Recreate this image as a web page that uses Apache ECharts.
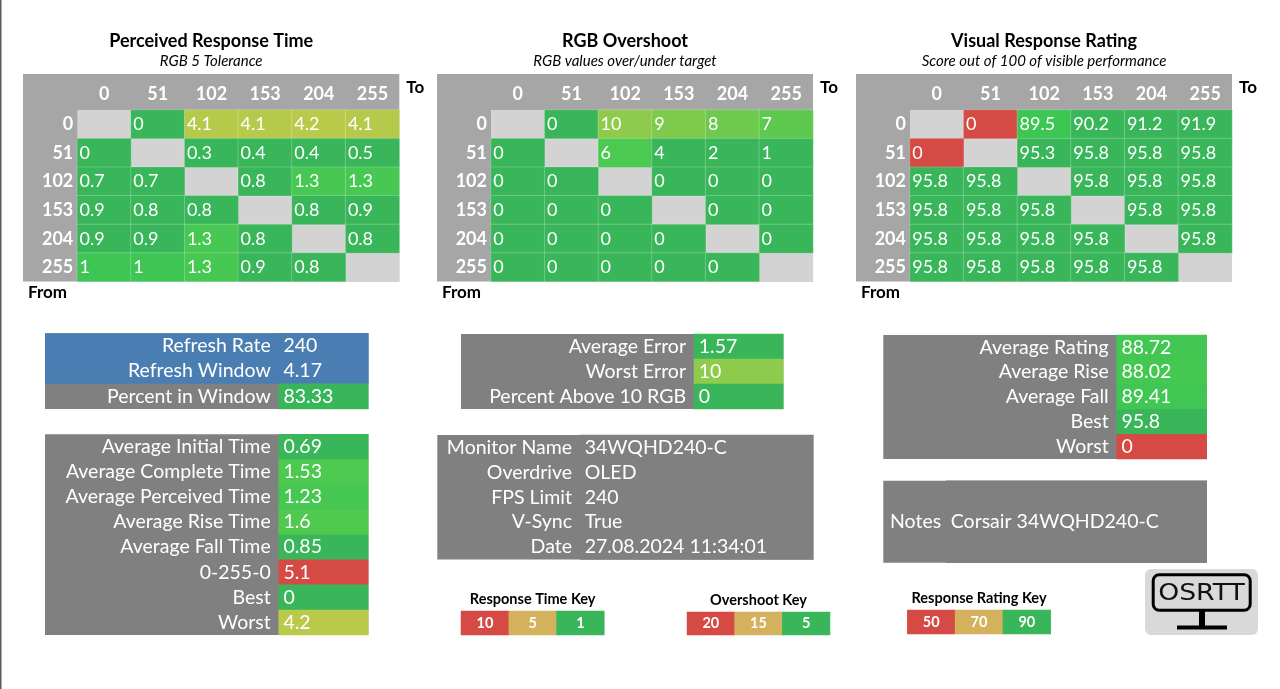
<!DOCTYPE html>
<html>
<head>
<meta charset="utf-8">
<title>OSRTT results</title>
<script src="https://cdn.jsdelivr.net/npm/echarts@6/dist/echarts.min.js"></script>
<style>
  html, body { margin: 0; padding: 0; background: #fff; }
  #main { width: 1280px; height: 689px; }
</style>
</head>
<body>
<div id="main"></div>
<script>
// transition levels (from / to)
const levels = ['0', '51', '102', '153', '204', '255'];

// heatmaps, row = from, col = to, null = same level
const perceivedTime = [
  [null, 0, 4.1, 4.1, 4.2, 4.1],
  [0, null, 0.3, 0.4, 0.4, 0.5],
  [0.7, 0.7, null, 0.8, 1.3, 1.3],
  [0.9, 0.8, 0.8, null, 0.8, 0.9],
  [0.9, 0.9, 1.3, 0.8, null, 0.8],
  [1, 1, 1.3, 0.9, 0.8, null]
];
const overshoot = [
  [null, 0, 10, 9, 8, 7],
  [0, null, 6, 4, 2, 1],
  [0, 0, null, 0, 0, 0],
  [0, 0, 0, null, 0, 0],
  [0, 0, 0, 0, null, 0],
  [0, 0, 0, 0, 0, null]
];
const rating = [
  [null, 0, 89.5, 90.2, 91.2, 91.9],
  [0, null, 95.3, 95.8, 95.8, 95.8],
  [95.8, 95.8, null, 95.8, 95.8, 95.8],
  [95.8, 95.8, 95.8, null, 95.8, 95.8],
  [95.8, 95.8, 95.8, 95.8, null, 95.8],
  [95.8, 95.8, 95.8, 95.8, 95.8, null]
];

// summary tables
const refreshLabels = ['Refresh Rate', 'Refresh Window', 'Percent in Window'];
const refreshValues = [240, 4.17, 83.33];
const timeLabels = ['Average Initial Time', 'Average Complete Time', 'Average Perceived Time',
  'Average Rise Time', 'Average Fall Time', '0-255-0', 'Best', 'Worst'];
const timeValues = [0.69, 1.53, 1.23, 1.6, 0.85, 5.1, 0, 4.2];
const errorLabels = ['Average Error', 'Worst Error', 'Percent Above 10 RGB'];
const errorValues = [1.57, 10, 0];
const monitorLabels = ['Monitor Name', 'Overdrive', 'FPS Limit', 'V-Sync', 'Date'];
const monitorValues = ['34WQHD240-C', 'OLED', '240', 'True', '27.08.2024 11:34:01'];
const ratingLabels = ['Average Rating', 'Average Rise', 'Average Fall', 'Best', 'Worst'];
const ratingValues = [88.72, 88.02, 89.41, 95.8, 0];
const notesLabels = ['Notes'];
const notesValues = ['Corsair 34WQHD240-C'];

// keys
const timeKey = [10, 5, 1];
const overshootKey = [20, 15, 5];
const ratingKey = [50, 70, 90];

const FONT = 'Lato, "Open Sans", sans-serif';
const GREEN = '#39b65a', RED = '#d64a45', TAN = '#d4b15c', BLUE = '#4a7eb3';
const PANEL = '#808080', HEAD = '#a6a6a6', DIAG = '#d3d3d3';
const KEY_COLORS = [RED, TAN, GREEN];
const TABLE_FS = 19.5, CELL_FS = 18;

function mix(a, b, t) {
  const pa = parseInt(a.slice(1), 16), pb = parseInt(b.slice(1), 16);
  const c = [16, 8, 0].map(s => Math.round(((pa >> s) & 255) * (1 - t) + ((pb >> s) & 255) * t));
  return 'rgb(' + c.join(',') + ')';
}
function colorScale(stops) {
  return function (v) {
    if (v <= stops[0][0]) return stops[0][1];
    for (let i = 1; i < stops.length; i++) {
      if (v <= stops[i][0]) {
        const t = (v - stops[i - 1][0]) / (stops[i][0] - stops[i - 1][0]);
        return mix(stops[i - 1][1], stops[i][1], t);
      }
    }
    return stops[stops.length - 1][1];
  };
}
const timeColor = colorScale([[0.95, GREEN], [1, '#3ec554'], [1.6, '#4fca4f'], [4.2, '#b9ca4b'], [4.6, TAN], [5, RED]]);
const osColor = colorScale([[5, GREEN], [5.5, '#44c950'], [10, '#8eca4c'], [15, TAN], [20, RED]]);
const rateColor = colorScale([[50, RED], [70, TAN], [85, '#4fca4f'], [89.9, '#3dc653'], [90, GREEN]]);
const windowColor = colorScale([[50, RED], [70, TAN], [80, GREEN]]);

const chart = echarts.init(document.getElementById('main'));
const opt = {
  animation: false,
  textStyle: { fontFamily: FONT },
  grid: [], xAxis: [], yAxis: [], series: [],
  graphic: { elements: [] }
};
const els = opt.graphic.elements;

function txt(x, y, str, st) {
  els.push({
    type: 'text', x: x, y: y, z: 10,
    style: Object.assign({
      text: str, fill: '#000', fontFamily: FONT, fontSize: 16,
      align: 'center', textAlign: 'center', verticalAlign: 'middle', textVerticalAlign: 'middle'
    }, st)
  });
}
function box(x, y, w, h, fill) {
  els.push({ type: 'rect', z: -1, shape: { x: x, y: y, width: w, height: h }, style: { fill: fill } });
}
function hiddenAxis(gi, data) {
  return { type: 'category', gridIndex: gi, data: data, show: false };
}
function labelAxis(gi, data, label, extra) {
  return Object.assign({
    type: 'category', gridIndex: gi, data: data,
    axisLine: { show: false }, axisTick: { show: false }, splitLine: { show: false },
    axisLabel: Object.assign({ interval: 0, hideOverlap: false, color: '#fff', fontFamily: FONT }, label)
  }, extra);
}

// ---- heatmaps
const CELL_W = 53.67, CELL_H = 28.6, HEAD_TOP = 74, CELL_TOP = 110;
const blocks = [
  { left: 23, cellLeft: 77.3, title: 'Perceived Response Time', sub: 'RGB 5 Tolerance', values: perceivedTime, color: timeColor },
  { left: 437, cellLeft: 491, title: 'RGB Overshoot', sub: 'RGB values over/under target', values: overshoot, color: osColor },
  { left: 856, cellLeft: 910, title: 'Visual Response Rating', sub: 'Score out of 100 of visible performance', values: rating, color: rateColor }
];

blocks.forEach(b => {
  const gi = opt.grid.length;
  const w = CELL_W * 6, h = CELL_H * 6, right = b.cellLeft + w;
  opt.grid.push({ left: b.cellLeft, top: CELL_TOP, width: w, height: h, outerBoundsMode: 'none' });
  opt.xAxis.push(labelAxis(gi, levels, { fontWeight: 'bold', fontSize: 18, margin: 7 }, { position: 'top' }));
  opt.yAxis.push(labelAxis(gi, levels, { fontWeight: 'bold', fontSize: 18, margin: 4 }, { inverse: true }));
  const data = [];
  b.values.forEach((row, r) => row.forEach((v, c) => {
    if (v !== null) data.push({ value: [c, r, v], itemStyle: { color: b.color(v) } });
  }));
  opt.series.push({
    type: 'heatmap', xAxisIndex: gi, yAxisIndex: gi, data: data,
    itemStyle: { borderColor: 'rgba(255,255,255,0.22)', borderWidth: 1 },
    label: {
      show: true, position: 'insideLeft', distance: 3, color: '#fff', fontSize: CELL_FS,
      fontFamily: FONT, textBorderWidth: 0, formatter: p => String(p.value[2])
    },
    emphasis: { disabled: true }
  });
  box(b.left, HEAD_TOP, right - b.left, CELL_TOP + h - HEAD_TOP, HEAD);
  box(b.cellLeft, CELL_TOP, w, h, DIAG);
  const mid = (b.left + right) / 2;
  txt(mid, 41, b.title, { fontWeight: 'bold', fontSize: 18 });
  txt(mid, 61, b.sub, { fontStyle: 'italic', fontSize: 15 });
  txt(right + 7, 88, 'To', { fontWeight: 'bold', fontSize: 17, align: 'left', textAlign: 'left' });
  txt(b.left + 5, 293, 'From', { fontWeight: 'bold', fontSize: 17, align: 'left', textAlign: 'left' });
});

// ---- summary tables
const tables = [
  { left: 45, split: 278.7, right: 368.3, top: 333.3, rowH: 25.2, labels: refreshLabels, values: refreshValues,
    color: (v, i) => i < 2 ? BLUE : windowColor(v), band: 2 },
  { left: 45, split: 278.7, right: 368.3, top: 434.3, rowH: 25.09, labels: timeLabels, values: timeValues,
    color: v => timeColor(v) },
  { left: 461, split: 694, right: 783.3, top: 334, rowH: 25, labels: errorLabels, values: errorValues,
    color: v => osColor(v) },
  { left: 437.3, split: 580, right: 813.3, top: 435, rowH: 24.9, labels: monitorLabels, values: monitorValues,
    color: () => PANEL },
  { left: 883.3, split: 1116.7, right: 1206.7, top: 335, rowH: 24.8, labels: ratingLabels, values: ratingValues,
    color: v => rateColor(v) },
  { left: 883.3, split: 946, right: 1206.7, top: 480.7, rowH: 82, labels: notesLabels, values: notesValues,
    color: () => PANEL, labelAlign: 'left', labelMargin: 56 }
];

tables.forEach(t => {
  const gi = opt.grid.length;
  const n = t.labels.length;
  opt.grid.push({ left: t.split, top: t.top, width: t.right - t.split, height: t.rowH * n, outerBoundsMode: 'none' });
  opt.xAxis.push(hiddenAxis(gi, ['value']));
  opt.yAxis.push(labelAxis(gi, t.labels,
    { fontSize: TABLE_FS, margin: t.labelMargin || 8, align: t.labelAlign || 'right' }, { inverse: true }));
  opt.series.push({
    type: 'heatmap', xAxisIndex: gi, yAxisIndex: gi,
    data: t.values.map((v, i) => ({
      value: [0, i, typeof v === 'number' ? v : 0], text: String(v),
      itemStyle: { color: t.color(v, i) }
    })),
    label: {
      show: true, position: 'insideLeft', distance: 5, color: '#fff', fontSize: TABLE_FS,
      fontFamily: FONT, textBorderWidth: 0, formatter: p => p.data.text
    },
    emphasis: { disabled: true }
  });
  box(t.left, t.top, t.right - t.left, t.rowH * n, PANEL);
  if (t.band) box(t.left, t.top, t.right - t.left, t.rowH * t.band, BLUE);
});

// ---- colour keys
const keys = [
  { title: 'Response Time Key', left: 461, right: 604.3, top: 611, bottom: 635, values: timeKey },
  { title: 'Overshoot Key', left: 687, right: 830, top: 612, bottom: 635, values: overshootKey },
  { title: 'Response Rating Key', left: 907.3, right: 1050.7, top: 610, bottom: 634, values: ratingKey }
];
keys.forEach(k => {
  const gi = opt.grid.length;
  opt.grid.push({ left: k.left, top: k.top, width: k.right - k.left, height: k.bottom - k.top, outerBoundsMode: 'none' });
  opt.xAxis.push(hiddenAxis(gi, k.values.map(String)));
  opt.yAxis.push(hiddenAxis(gi, ['key']));
  opt.series.push({
    type: 'heatmap', xAxisIndex: gi, yAxisIndex: gi,
    data: k.values.map((v, i) => ({ value: [i, 0, v], itemStyle: { color: KEY_COLORS[i] } })),
    label: {
      show: true, color: '#fff', fontSize: 14.5, fontWeight: 'bold', fontFamily: FONT,
      textBorderWidth: 0, formatter: p => String(p.value[2])
    },
    emphasis: { disabled: true }
  });
  txt((k.left + k.right) / 2, k.top - 12, k.title, { fontWeight: 'bold', fontSize: 14.5 });
});

// ---- OSRTT logo + page edge
els.push({ type: 'rect', z: -1, shape: { x: 0, y: 0, width: 1.5, height: 689 }, style: { fill: '#5a5a5a' } });
els.push({ type: 'rect', z: 1, shape: { x: 1145, y: 569, width: 113, height: 66, r: 6 }, style: { fill: '#d9d9d9' } });
els.push({ type: 'rect', z: 2, shape: { x: 1153.2, y: 574.8, width: 97, height: 35.4, r: 6 },
  style: { fill: 'none', stroke: '#000', lineWidth: 3 } });
els.push({ type: 'rect', z: 2, shape: { x: 1199, y: 611, width: 6, height: 15 }, style: { fill: '#000' } });
els.push({ type: 'rect', z: 2, shape: { x: 1177, y: 625.5, width: 50, height: 4 }, style: { fill: '#000' } });
els.push({
  type: 'text', z: 3, x: 1201.5, y: 594, scaleX: 1.16,
  style: { text: 'OSRTT', fill: '#111', fontFamily: '"DejaVu Sans", sans-serif', fontSize: 23,
    align: 'center', textAlign: 'center', verticalAlign: 'middle', textVerticalAlign: 'middle' }
});

chart.setOption(opt);
</script>
</body>
</html>
